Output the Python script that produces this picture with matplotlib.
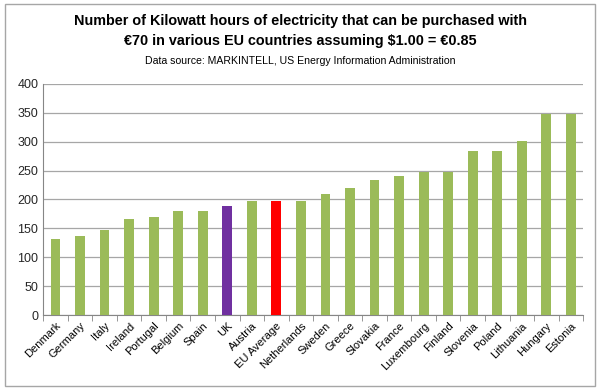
import matplotlib
matplotlib.use("Agg")
import matplotlib.pyplot as plt
from matplotlib.patches import Rectangle

countries = ["Denmark", "Germany", "Italy", "Ireland", "Portugal", "Belgium", "Spain", "UK",
             "Austria", "EU Average", "Netherlands", "Sweden", "Greece", "Slovakia", "France",
             "Luxembourg", "Finland", "Slovenia", "Poland", "Lithuania", "Hungary", "Estonia"]
kwh = [132, 137, 147, 166, 170, 180, 180, 189, 198, 198, 198, 209, 220, 234, 241,
       248, 248, 284, 284, 302, 347, 347]

green = "#9BBB59"
colors = [green] * len(countries)
colors[countries.index("UK")] = "#7030A0"
colors[countries.index("EU Average")] = "#FF0000"

plt.rcParams["font.family"] = ["Liberation Sans", "DejaVu Sans"]

fig = plt.figure(figsize=(6, 3.9), dpi=100)
ax = fig.add_axes([0.072, 0.192, 0.9, 0.593])

x = range(len(countries))
ax.bar(x, kwh, width=0.4, color=colors, zorder=3)

ax.set_ylim(0, 400)
ax.set_yticks(range(0, 401, 50))
ax.set_xlim(-0.5, len(countries) - 0.5)
ax.grid(axis="y", color="#A6A6A6", linewidth=0.9, zorder=0)
ax.set_xticks(x)
ax.set_xticklabels(countries, rotation=45, ha="right", rotation_mode="anchor", fontsize=8)
ax.tick_params(axis="x", length=0, pad=4)
ax.set_xticks([i - 0.5 for i in range(len(countries) + 1)], minor=True)
ax.tick_params(axis="x", which="minor", length=4, color="#868686")
ax.tick_params(axis="y", length=0, labelsize=9, colors="#262626")
for s in ["top", "right"]:
    ax.spines[s].set_visible(False)
ax.spines["left"].set_color("#868686")
ax.spines["bottom"].set_color("#868686")

fig.text(0.5, 0.92, "Number of Kilowatt hours of electricity that can be purchased with\n"
         "\u20ac70 in various EU countries assuming $1.00 = \u20ac0.85",
         ha="center", va="center", fontsize=10.4, fontweight="bold", linespacing=1.55)
fig.text(0.5, 0.843, "Data source: MARKINTELL, US Energy Information Administration",
         ha="center", va="center", fontsize=7.6)

fig.patches.append(Rectangle((0.008, 0.01), 0.984, 0.98, transform=fig.transFigure,
                             fill=False, edgecolor="#A6A6A6", linewidth=1))

fig.savefig("out.png", dpi=100)
